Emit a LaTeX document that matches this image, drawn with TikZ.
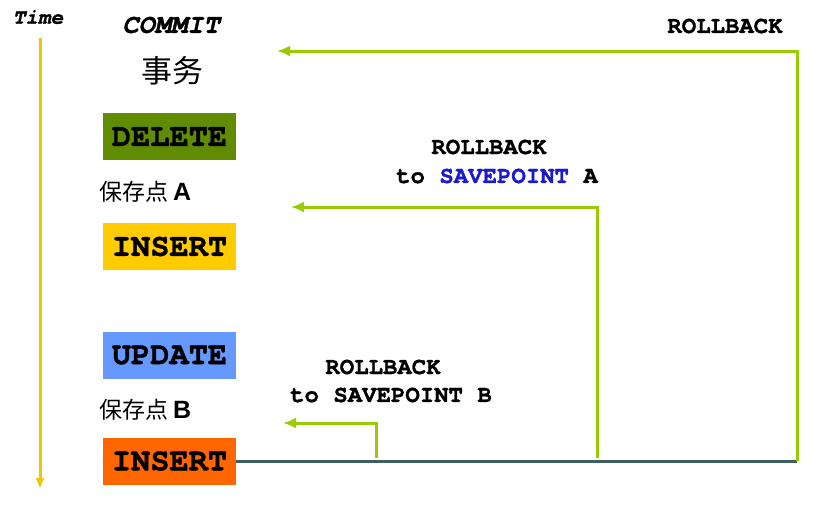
\documentclass[tikz,border=0pt]{standalone}
\usepackage{fontspec}
\setmainfont{Liberation Serif}
\newfontfamily\monob[FakeBold=1.2]{TeX Gyre Cursor}
\newfontfamily\cjk{Noto Sans CJK SC}
\newfontfamily\sansb{Liberation Sans}
\usetikzlibrary{arrows.meta}
\definecolor{delgreen}{HTML}{5F8C00}
\definecolor{insyellow}{HTML}{FFCC00}
\definecolor{updblue}{HTML}{6699FF}
\definecolor{insorange}{HTML}{FF6600}
\definecolor{rbgreen}{HTML}{99CC00}
\definecolor{darkline}{HTML}{3F5F5F}
\definecolor{timeyellow}{HTML}{F5C400}
\definecolor{spblue}{HTML}{1A1ACC}
\tikzset{
  stmt/.style={minimum width=133pt, minimum height=47pt, inner sep=0pt,
     font=\monob\bfseries\fontsize{32}{34}\selectfont},
  lbl/.style={inner sep=0pt, font=\monob\bfseries\fontsize{24}{28}\selectfont},
  sp/.style={inner sep=0pt, font=\cjk\fontsize{23}{26}\selectfont},
  rb/.style={draw=rbgreen, line width=3pt, -{Latex[length=13pt,width=11pt]}},
}
\begin{document}
\begin{tikzpicture}[x=1pt,y=-1pt]
\useasboundingbox (0,0) rectangle (816,504);
% time
\node[inner sep=0pt, font=\monob\bfseries\itshape\fontsize{21}{22}\selectfont] (time) at (38,17) {Time};
\coordinate (t1) at (40,38);
\coordinate (t2) at (40,489);
\draw[timeyellow, line width=3pt, -{Latex[length=11pt,width=9pt]}] (t1) -- (t2);
% commit
\node[inner sep=0pt, font=\monob\bfseries\itshape\fontsize{27}{30}\selectfont] (commit) at (171,25) {COMMIT};
\node[sp, font=\cjk\fontsize{31}{34}\selectfont] (tx) at (172,71) {事务};
% statements
\node[stmt, fill=delgreen] (del) at (169.5,136.5) {DELETE};
\node[sp, anchor=west] (spa) at (99,192) {保存点\hspace{5pt}{\sansb\bfseries\fontsize{25}{26}\selectfont A}};
\node[stmt, fill=insyellow] (ins1) at (169.5,246.5) {INSERT};
\node[stmt, fill=updblue] (upd) at (169.5,355) {UPDATE};
\node[sp, anchor=west] (spb) at (99,410) {保存点\hspace{5pt}{\sansb\bfseries\fontsize{25}{26}\selectfont B}};
\node[stmt, fill=insorange] (ins2) at (169.5,461) {INSERT};
% base line
\coordinate (endr) at (797,461);
\draw[darkline, line width=3pt] (ins2.east) -- (endr);
% rollback all
\coordinate (c1) at (797,51);
\coordinate (a1) at (277,51);
\draw[rb] (endr) -- (c1) -- (a1);
\node[lbl] (rb1) at (725,26) {ROLLBACK};
% rollback A
\coordinate (s2) at (597,458);
\coordinate (c2) at (597,207);
\coordinate (a2) at (291,207);
\draw[rb] (s2) -- (c2) -- (a2);
\node[lbl] (rb2) at (489,147) {ROLLBACK};
\node[lbl] (rb2b) at (497,176) {to {\color{spblue}SAVEPOINT} A};
% rollback B
\coordinate (s3) at (376,458);
\coordinate (c3) at (376,423);
\coordinate (a3) at (283,423);
\draw[rb] (s3) -- (c3) -- (a3);
\node[lbl] (rb3) at (383,367) {ROLLBACK};
\node[lbl] (rb3b) at (391,395) {to SAVEPOINT B};
\end{tikzpicture}
\end{document}
